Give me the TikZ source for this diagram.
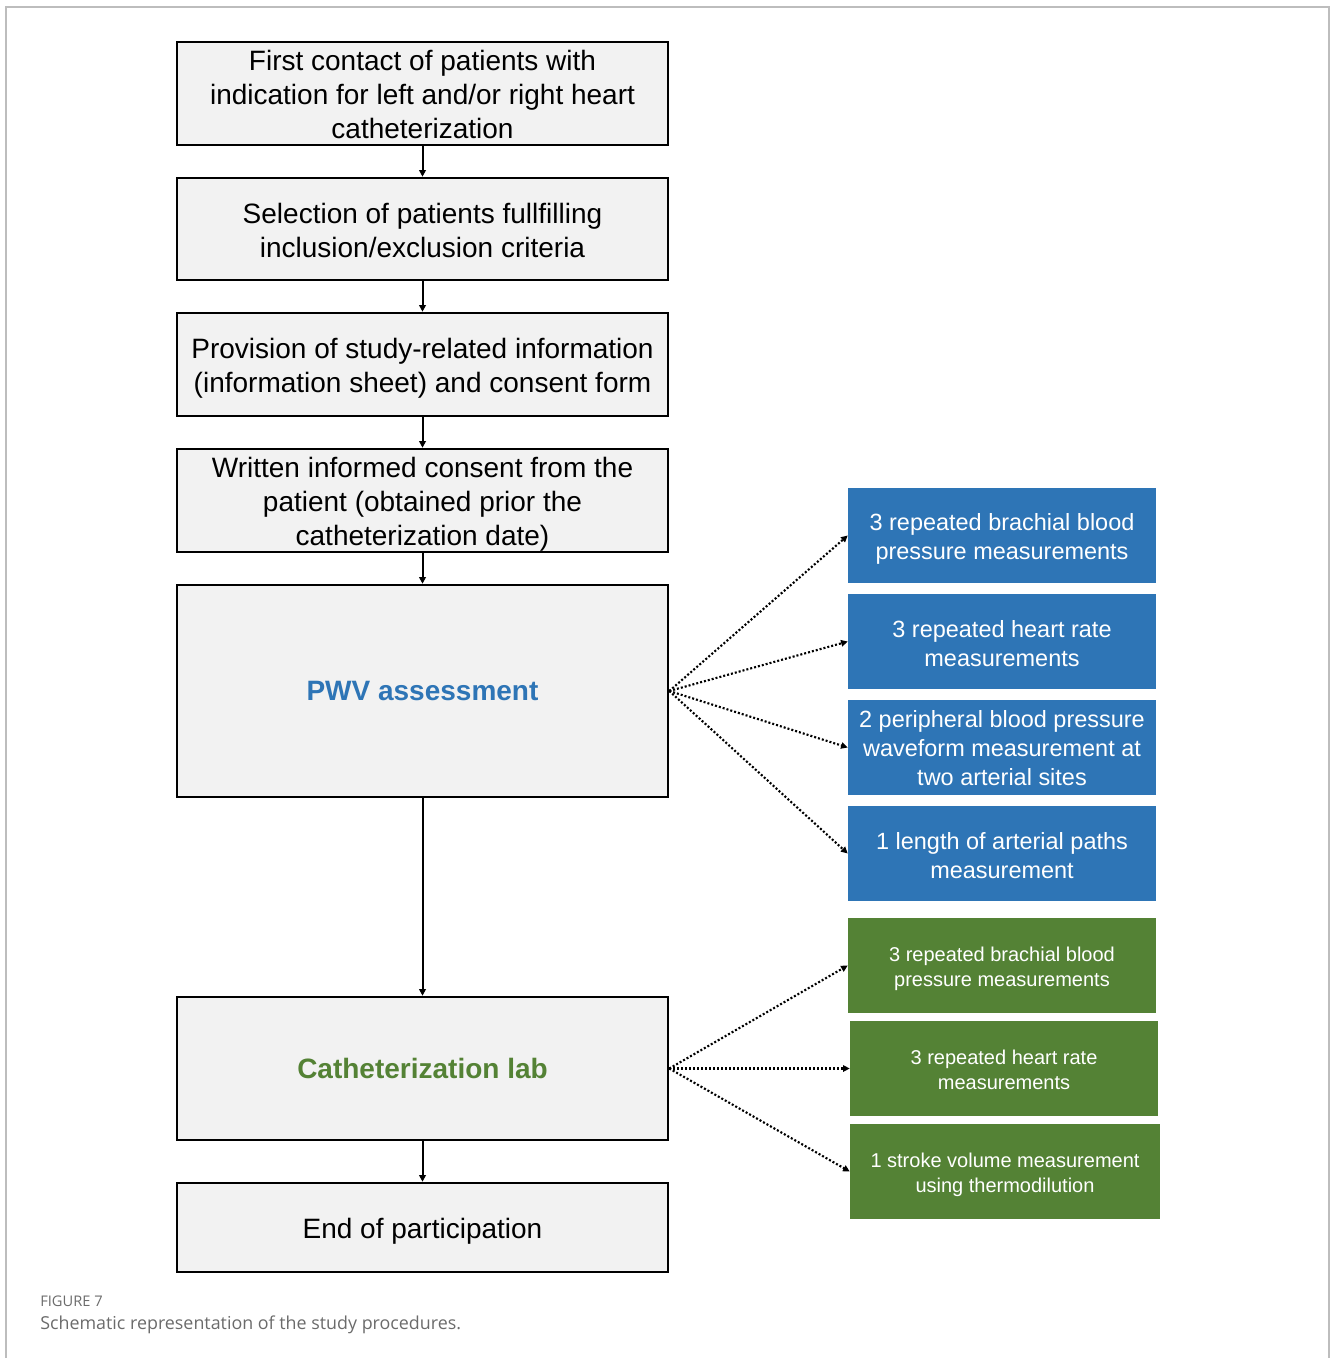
\documentclass[tikz,border=0pt]{standalone}
\usepackage{fontspec}
\setmainfont{Liberation Sans}
\newfontfamily\capfont{Open Sans}
\usetikzlibrary{arrows.meta}
\definecolor{boxgray}{HTML}{F2F2F2}
\definecolor{pwvblue}{HTML}{2E75B6}
\definecolor{cathgreen}{HTML}{548235}
\definecolor{framegray}{HTML}{BDBDBD}
\definecolor{capgray}{HTML}{6B6B6B}
\newcommand\pdn[1]{\rule{0pt}{#1}}
\tikzset{
  mainbox/.style={draw=black, fill=boxgray, line width=1.9pt, align=center,
    minimum width=368.25pt, inner sep=0pt,
    font=\fontsize{21pt}{25.5pt}\selectfont},
  bluebox/.style={fill=pwvblue, text=white, align=center, inner sep=0pt,
    minimum width=231pt, minimum height=71.25pt,
    font=\fontsize{17.6pt}{21.75pt}\selectfont},
  greenbox/.style={fill=cathgreen, text=white, align=center, inner sep=0pt,
    minimum height=71.25pt,
    font=\fontsize{15pt}{18.9pt}\selectfont},
  flowarrow/.style={line width=1.5pt, -{Triangle[length=5pt,width=5pt]}},
  dotarrow/.style={line width=1.6pt, dash pattern=on 1.5pt off 1.5pt,
    -{Triangle[length=5pt,width=4.8pt]}},
}
\begin{document}
\begin{tikzpicture}[x=0.75pt, y=-0.75pt]
\useasboundingbox (0,0) rectangle (1330,1358);
\draw[framegray, line width=1.1pt] (6,1358) -- (6,7) -- (1329,7) -- (1329,1358);

\node[mainbox, minimum height=77.25pt] (b1) at (422.5,93.5)
  {\pdn{16.8pt}First contact of patients with\\indication for left and/or right heart\\catheterization};
\node[mainbox, minimum height=76.5pt] (b2) at (422.5,229)
  {\pdn{16.8pt}Selection of patients fullfilling\\inclusion/exclusion criteria};
\node[mainbox, minimum height=77.25pt] (b3) at (422.5,364.5)
  {\pdn{21.3pt}Provision of study-related information\\(information sheet) and consent form};
\node[mainbox, minimum height=77.25pt] (b4) at (422.5,500.5)
  {\pdn{21.3pt}Written informed consent from the\\patient (obtained prior the\\catheterization date)};
\node[mainbox, minimum height=159pt, text=pwvblue, font=\fontsize{21pt}{25.5pt}\selectfont\bfseries] (b5) at (422.5,691)
  {PWV assessment};
\node[mainbox, minimum height=107.25pt, text=cathgreen, font=\fontsize{21pt}{25.5pt}\selectfont\bfseries] (b6) at (422.5,1068.5)
  {Catheterization lab};
\node[mainbox, minimum height=66.75pt] (b7) at (422.5,1227.5)
  {\pdn{21.3pt}End of participation};

\draw[flowarrow] (b1.south) -- (b2.north);
\draw[flowarrow] (b2.south) -- (b3.north);
\draw[flowarrow] (b3.south) -- (b4.north);
\draw[flowarrow] (b4.south) -- (b5.north);
\draw[flowarrow] (b5.south) -- (b6.north);
\draw[flowarrow] (b6.south) -- (b7.north);

\node[bluebox] (p1) at (1002,535.5) {\pdn{17.35pt}3 repeated brachial blood\\pressure measurements};
\node[bluebox] (p2) at (1002,641.5) {\pdn{15.85pt}3 repeated heart rate\\measurements};
\node[bluebox] (p3) at (1002,747.5) {\pdn{14.35pt}2 peripheral blood pressure\\waveform measurement at\\two arterial sites};
\node[bluebox] (p4) at (1002,853.5) {\pdn{15.85pt}1 length of arterial paths\\measurement};

\node[greenbox, minimum width=231pt] (c1) at (1002,965.5) {\pdn{15.45pt}3 repeated brachial blood\\pressure measurements};
\node[greenbox, minimum width=231pt] (c2) at (1004,1068.5) {\pdn{12.45pt}3 repeated heart rate\\measurements};
\node[greenbox, minimum width=232.5pt] (c3) at (1005,1171.5) {\pdn{15.45pt}1 stroke volume measurement\\using thermodilution};

\foreach \t in {p1,p2,p3,p4} \draw[dotarrow] (b5.east) -- (\t.west);
\foreach \t in {c1,c2,c3} \draw[dotarrow] (b6.east) -- (\t.west);

\node[anchor=west, inner sep=0pt, text=capgray, font=\capfont\fontsize{11pt}{12pt}\selectfont] (figlabel) at (40,1301) {FIGURE 7};
\node[anchor=west, inner sep=0pt, text=capgray, font=\capfont\fontsize{13.4pt}{15pt}\selectfont] (caption) at (40,1325) {Schematic representation of the study procedures.};
\end{tikzpicture}
\end{document}
